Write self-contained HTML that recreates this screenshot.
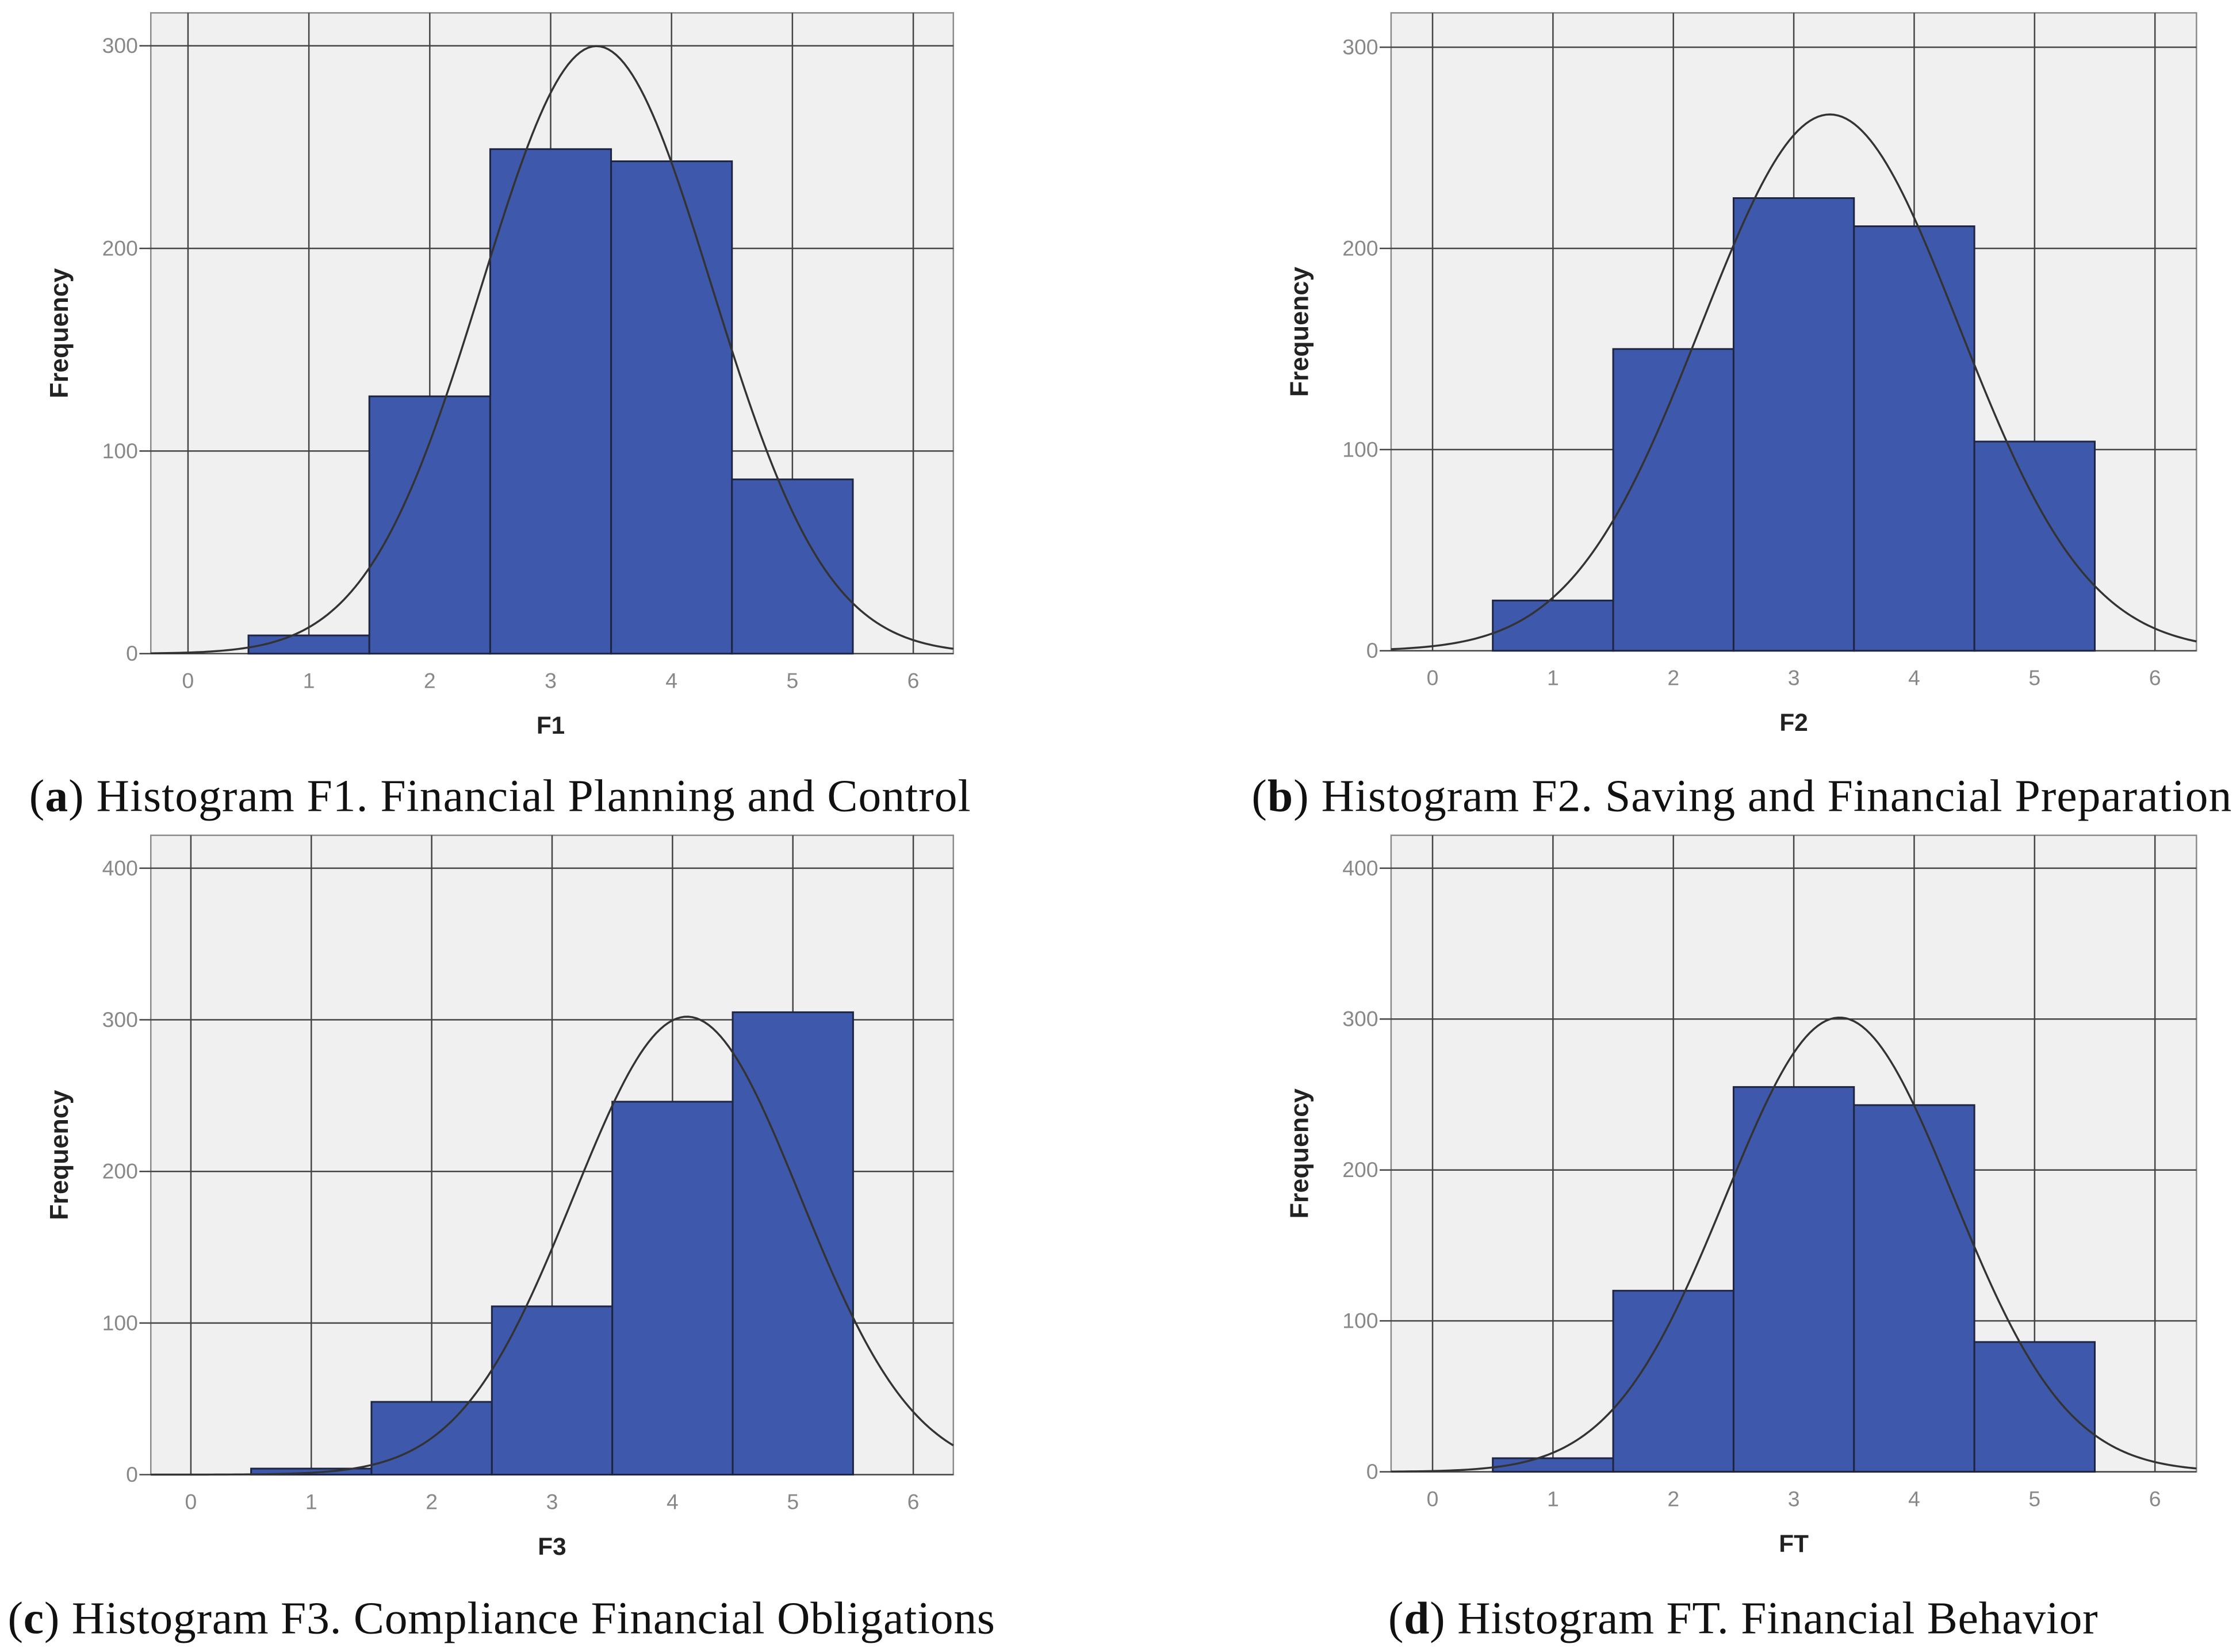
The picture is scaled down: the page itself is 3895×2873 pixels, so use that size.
<!DOCTYPE html>
<html><head><meta charset="utf-8"><style>
html,body{margin:0;padding:0;background:#fff;}
svg{display:block;}
</style></head><body>
<svg id="fig" width="3895" height="2873" viewBox="0 0 1565 1155" xmlns="http://www.w3.org/2000/svg"></svg>
<script>
// Data
const binCenters = [1, 2, 3, 4, 5];
const freqF1 = [9, 127, 249, 243, 86];
const freqF2 = [25, 150, 225, 211, 104];
const freqF3 = [4, 48, 111, 246, 305];
const freqFT = [9, 120, 255, 243, 86];
const xTicks = [0, 1, 2, 3, 4, 5, 6];
const yTicksA = [0, 100, 200, 300];
const yTicksC = [0, 100, 200, 300, 400];
const curveMeans = [3.38, 3.3, 4.12, 3.38];
const curveSDs = [0.95, 1.07, 0.943, 0.945];
const axisTitles = ["F1", "F2", "F3", "FT"];
const captionsBold = ["a", "b", "c", "d"];
const captionsText = [") Histogram F1. Financial Planning and Control", ") Histogram F2. Saving and Financial Preparation", ") Histogram F3. Compliance Financial Obligations", ") Histogram FT. Financial Behavior"];

const layout = [
  {L:105,R:666,T:9,B:457,x0:131,x6:638,ymax:300,yAt:32,capX:349,capY:567,capW:658,yt:yTicksA,data:freqF1},
  {L:972,R:1535,T:9,B:455,x0:1001,x6:1506,ymax:300,yAt:33,capX:1217,capY:567,capW:685,yt:yTicksA,data:freqF2},
  {L:105,R:666,T:584,B:1031,x0:133,x6:638,ymax:400,yAt:607,capX:350,capY:1142,capW:690,yt:yTicksC,data:freqF3},
  {L:972,R:1535,T:584,B:1029,x0:1001,x6:1506,ymax:400,yAt:607,capX:1218,capY:1142,capW:496,yt:yTicksC,data:freqFT}
];
const NS="http://www.w3.org/2000/svg";
const svg=document.getElementById('fig');
function mk(tag,attrs,parent){const e=document.createElementNS(NS,tag);for(const k in attrs)e.setAttribute(k,attrs[k]);(parent||svg).appendChild(e);return e;}

layout.forEach((p,i)=>{
  const g=mk('g',{});
  
  
  const xs=v=>p.x0+(p.x6-p.x0)*v/6;
  const ys=v=>p.B-(p.B-p.yAt)*v/p.ymax;
  const bg=mk('rect',{x:p.L,y:p.T,width:p.R-p.L,height:p.B-p.T,fill:'#f0f0f0',stroke:'#8a8a8a','stroke-width':1},g);
  
  
  xTicks.forEach(t=>{
    const l=mk('line',{x1:xs(t),x2:xs(t),y1:p.T,y2:p.B,stroke:'#444','stroke-width':1},g);
    
    
    const tx=mk('text',{x:xs(t),y:p.B+24,'text-anchor':'middle','font-family':'Liberation Sans, sans-serif','font-size':15,fill:'#888'},g);
    tx.textContent=t;
    
    
  });
  p.yt.forEach(t=>{
    const l=mk('line',{x1:p.L-8,x2:p.R,y1:ys(t),y2:ys(t),stroke:'#444','stroke-width':1},g);
    
    
    const tx=mk('text',{x:p.L-9,y:ys(t)+5,'text-anchor':'end','font-family':'Liberation Sans, sans-serif','font-size':15,fill:'#888'},g);
    tx.textContent=t;
    
    
  });
  p.data.forEach((v,j)=>{
    const c=binCenters[j];
    const r=mk('rect',{x:xs(c-0.5),y:ys(v),width:xs(c+0.5)-xs(c-0.5),height:ys(0)-ys(v),fill:'#3e58ab',stroke:'#1e2540','stroke-width':1.2},g);
    
    
  });
  const N=p.data.reduce((a,b)=>a+b,0), m=curveMeans[i], s=curveSDs[i];
  const xmin=(p.L-p.x0)/((p.x6-p.x0)/6), xmax=(p.R-p.x0)/((p.x6-p.x0)/6);
  let d='';
  for(let k=0;k<=200;k++){const x=xmin+(xmax-xmin)*k/200;const y=N/(s*Math.sqrt(2*Math.PI))*Math.exp(-0.5*((x-m)/s)**2);d+=(k?'L':'M')+xs(x).toFixed(2)+','+ys(y).toFixed(2);}
  const cv=mk('path',{d:d,fill:'none',stroke:'#333','stroke-width':1.4},g);
  
  
  const xt=mk('text',{x:(p.x0+p.x6)/2,y:p.B+56,'text-anchor':'middle','font-family':'Liberation Sans, sans-serif','font-size':17,'font-weight':'bold',fill:'#222'},g);
  xt.textContent=axisTitles[i];
  
  
  const yx=p.L-58, yy=(p.T+p.B)/2;
  const yt=mk('text',{x:yx,y:yy,transform:`rotate(-90 ${yx} ${yy})`,'text-anchor':'middle','font-family':'Liberation Sans, sans-serif','font-size':18,'font-weight':'bold',fill:'#222'},g);
  yt.textContent='Frequency';
  
  
  const cap=mk('text',{x:p.capX-p.capW/2,y:p.capY,'font-family':'Liberation Serif, serif','font-size':32,fill:'#111',textLength:p.capW,lengthAdjust:'spacing'},g);
  
  
  const t1=mk('tspan',{},cap);t1.textContent='(';
  const t2=mk('tspan',{'font-weight':'bold'},cap);t2.textContent=captionsBold[i];
  const t3=mk('tspan',{},cap);t3.textContent=captionsText[i];
});
</script>
</body></html>
